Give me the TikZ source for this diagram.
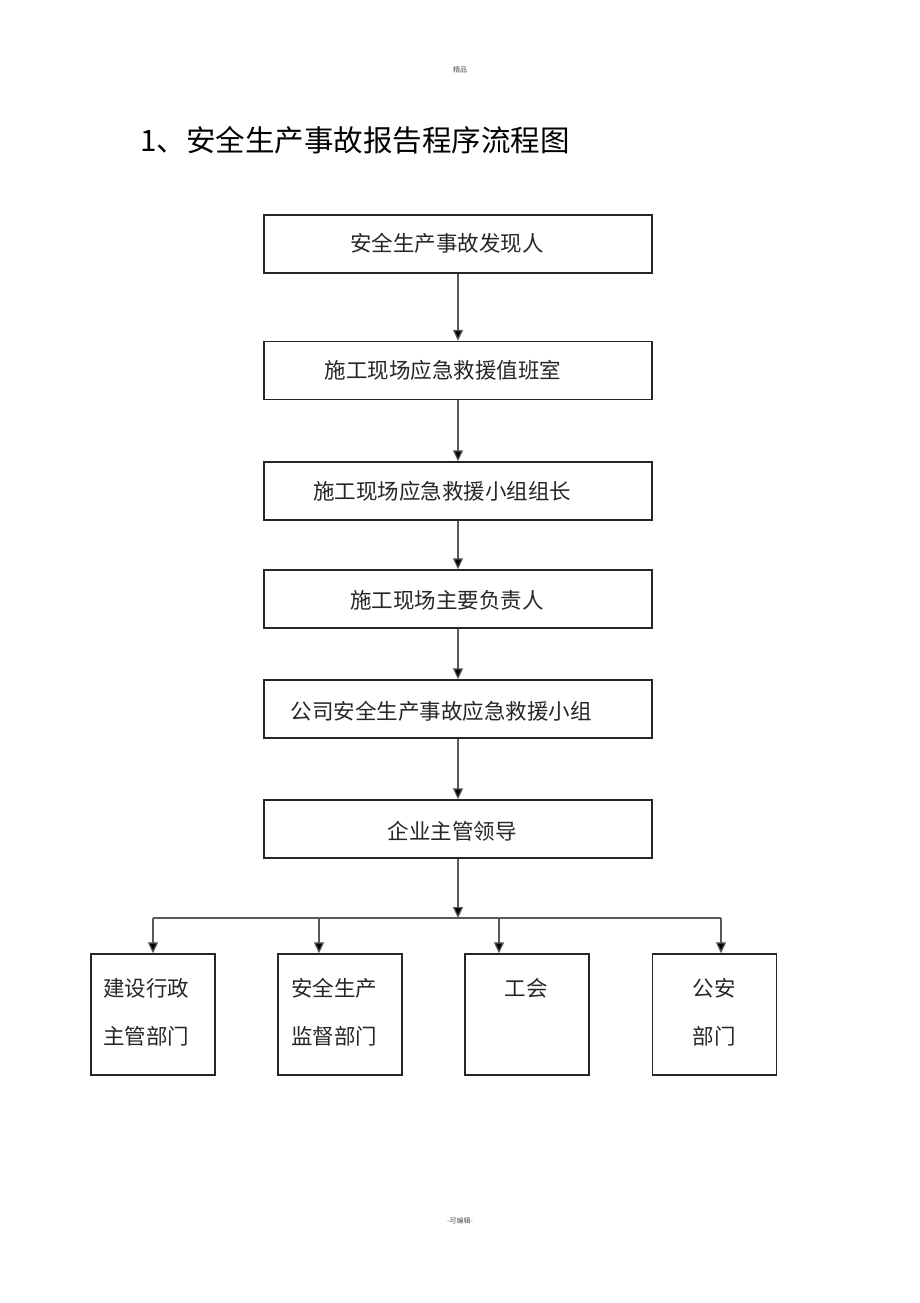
\documentclass[tikz,border=0pt]{standalone}
\usepackage{fontspec}
\setmainfont{Noto Sans CJK SC}
\usetikzlibrary{arrows.meta}
\begin{document}
\begin{tikzpicture}[x=1pt,y=-1pt,
  box/.style={draw=black!85,line width=1.4pt,minimum width=388pt,minimum height=58pt,inner sep=0pt},
  sbox/.style={draw=black!85,line width=1.4pt,minimum width=124pt,minimum height=121pt,inner sep=0pt},
  txt/.style={inner sep=0pt,font=\fontsize{21.5}{26}\selectfont,text=black!85},
  conn/.style={draw=black!65,line width=1.2pt,-{Triangle[length=11pt,width=10pt,fill=black]}},
  plain/.style={draw=black!65,line width=1.2pt}]
\useasboundingbox (0,0) rectangle (920,1303);
\node[inner sep=0pt,font=\fontsize{7}{8}\selectfont,text=black!70] (hdr) at (460,70) {精品};
\node[inner sep=0pt,font=\fontsize{7}{8}\selectfont,text=black!70] (ftr) at (460,1221) {-可编辑-};
\node[inner sep=0pt,anchor=west,font=\fontsize{29.5}{34}\selectfont] (title) at (140,140) {1、安全生产事故报告程序流程图};

\node[box] (b1) at (458,244) {};
\node[box] (b2) at (458,370.5) {};
\node[box] (b3) at (458,491) {};
\node[box] (b4) at (458,599) {};
\node[box] (b5) at (458,709) {};
\node[box] (b6) at (458,829) {};
\node[txt] (t1) at (447,243) {安全生产事故发现人};
\node[txt] (t2) at (443,370) {施工现场应急救援值班室};
\node[txt] (t3) at (442,491) {施工现场应急救援小组组长};
\node[txt] (t4) at (447,600) {施工现场主要负责人};
\node[txt] (t5) at (441,711) {公司安全生产事故应急救援小组};
\node[txt] (t6) at (452,831) {企业主管领导};

\draw[conn] (b1.south) -- (b2.north);
\draw[conn] (b2.south) -- (b3.north);
\draw[conn] (b3.south) -- (b4.north);
\draw[conn] (b4.south) -- (b5.north);
\draw[conn] (b5.south) -- (b6.north);

\node[sbox] (c1) at (153,1014.5) {};
\node[sbox] (c2) at (340,1014.5) {};
\node[sbox] (c3) at (527,1014.5) {};
\node[sbox] (c4) at (714.5,1014.5) {};

\coordinate (j) at (458,918);
\coordinate (j1) at (153,918);
\coordinate (j2) at (319,918);
\coordinate (j3) at (499,918);
\coordinate (j4) at (721,918);
\draw[conn] (b6.south) -- (j);
\draw[plain] (j1) -- (j4);
\draw[conn] (j1) -- (j1 |- c1.north);
\draw[conn] (j2) -- (j2 |- c2.north);
\draw[conn] (j3) -- (j3 |- c3.north);
\draw[conn] (j4) -- (j4 |- c4.north);

\node[txt,anchor=west] (u1a) at (103,988) {建设行政};
\node[txt,anchor=west] (u1b) at (103,1036) {主管部门};
\node[txt,anchor=west] (u2a) at (291,988) {安全生产};
\node[txt,anchor=west] (u2b) at (291,1036) {监督部门};
\node[txt] (u3a) at (526,988) {工会};
\node[txt] (u4a) at (714,988) {公安};
\node[txt] (u4b) at (714,1036) {部门};
\end{tikzpicture}
\end{document}
